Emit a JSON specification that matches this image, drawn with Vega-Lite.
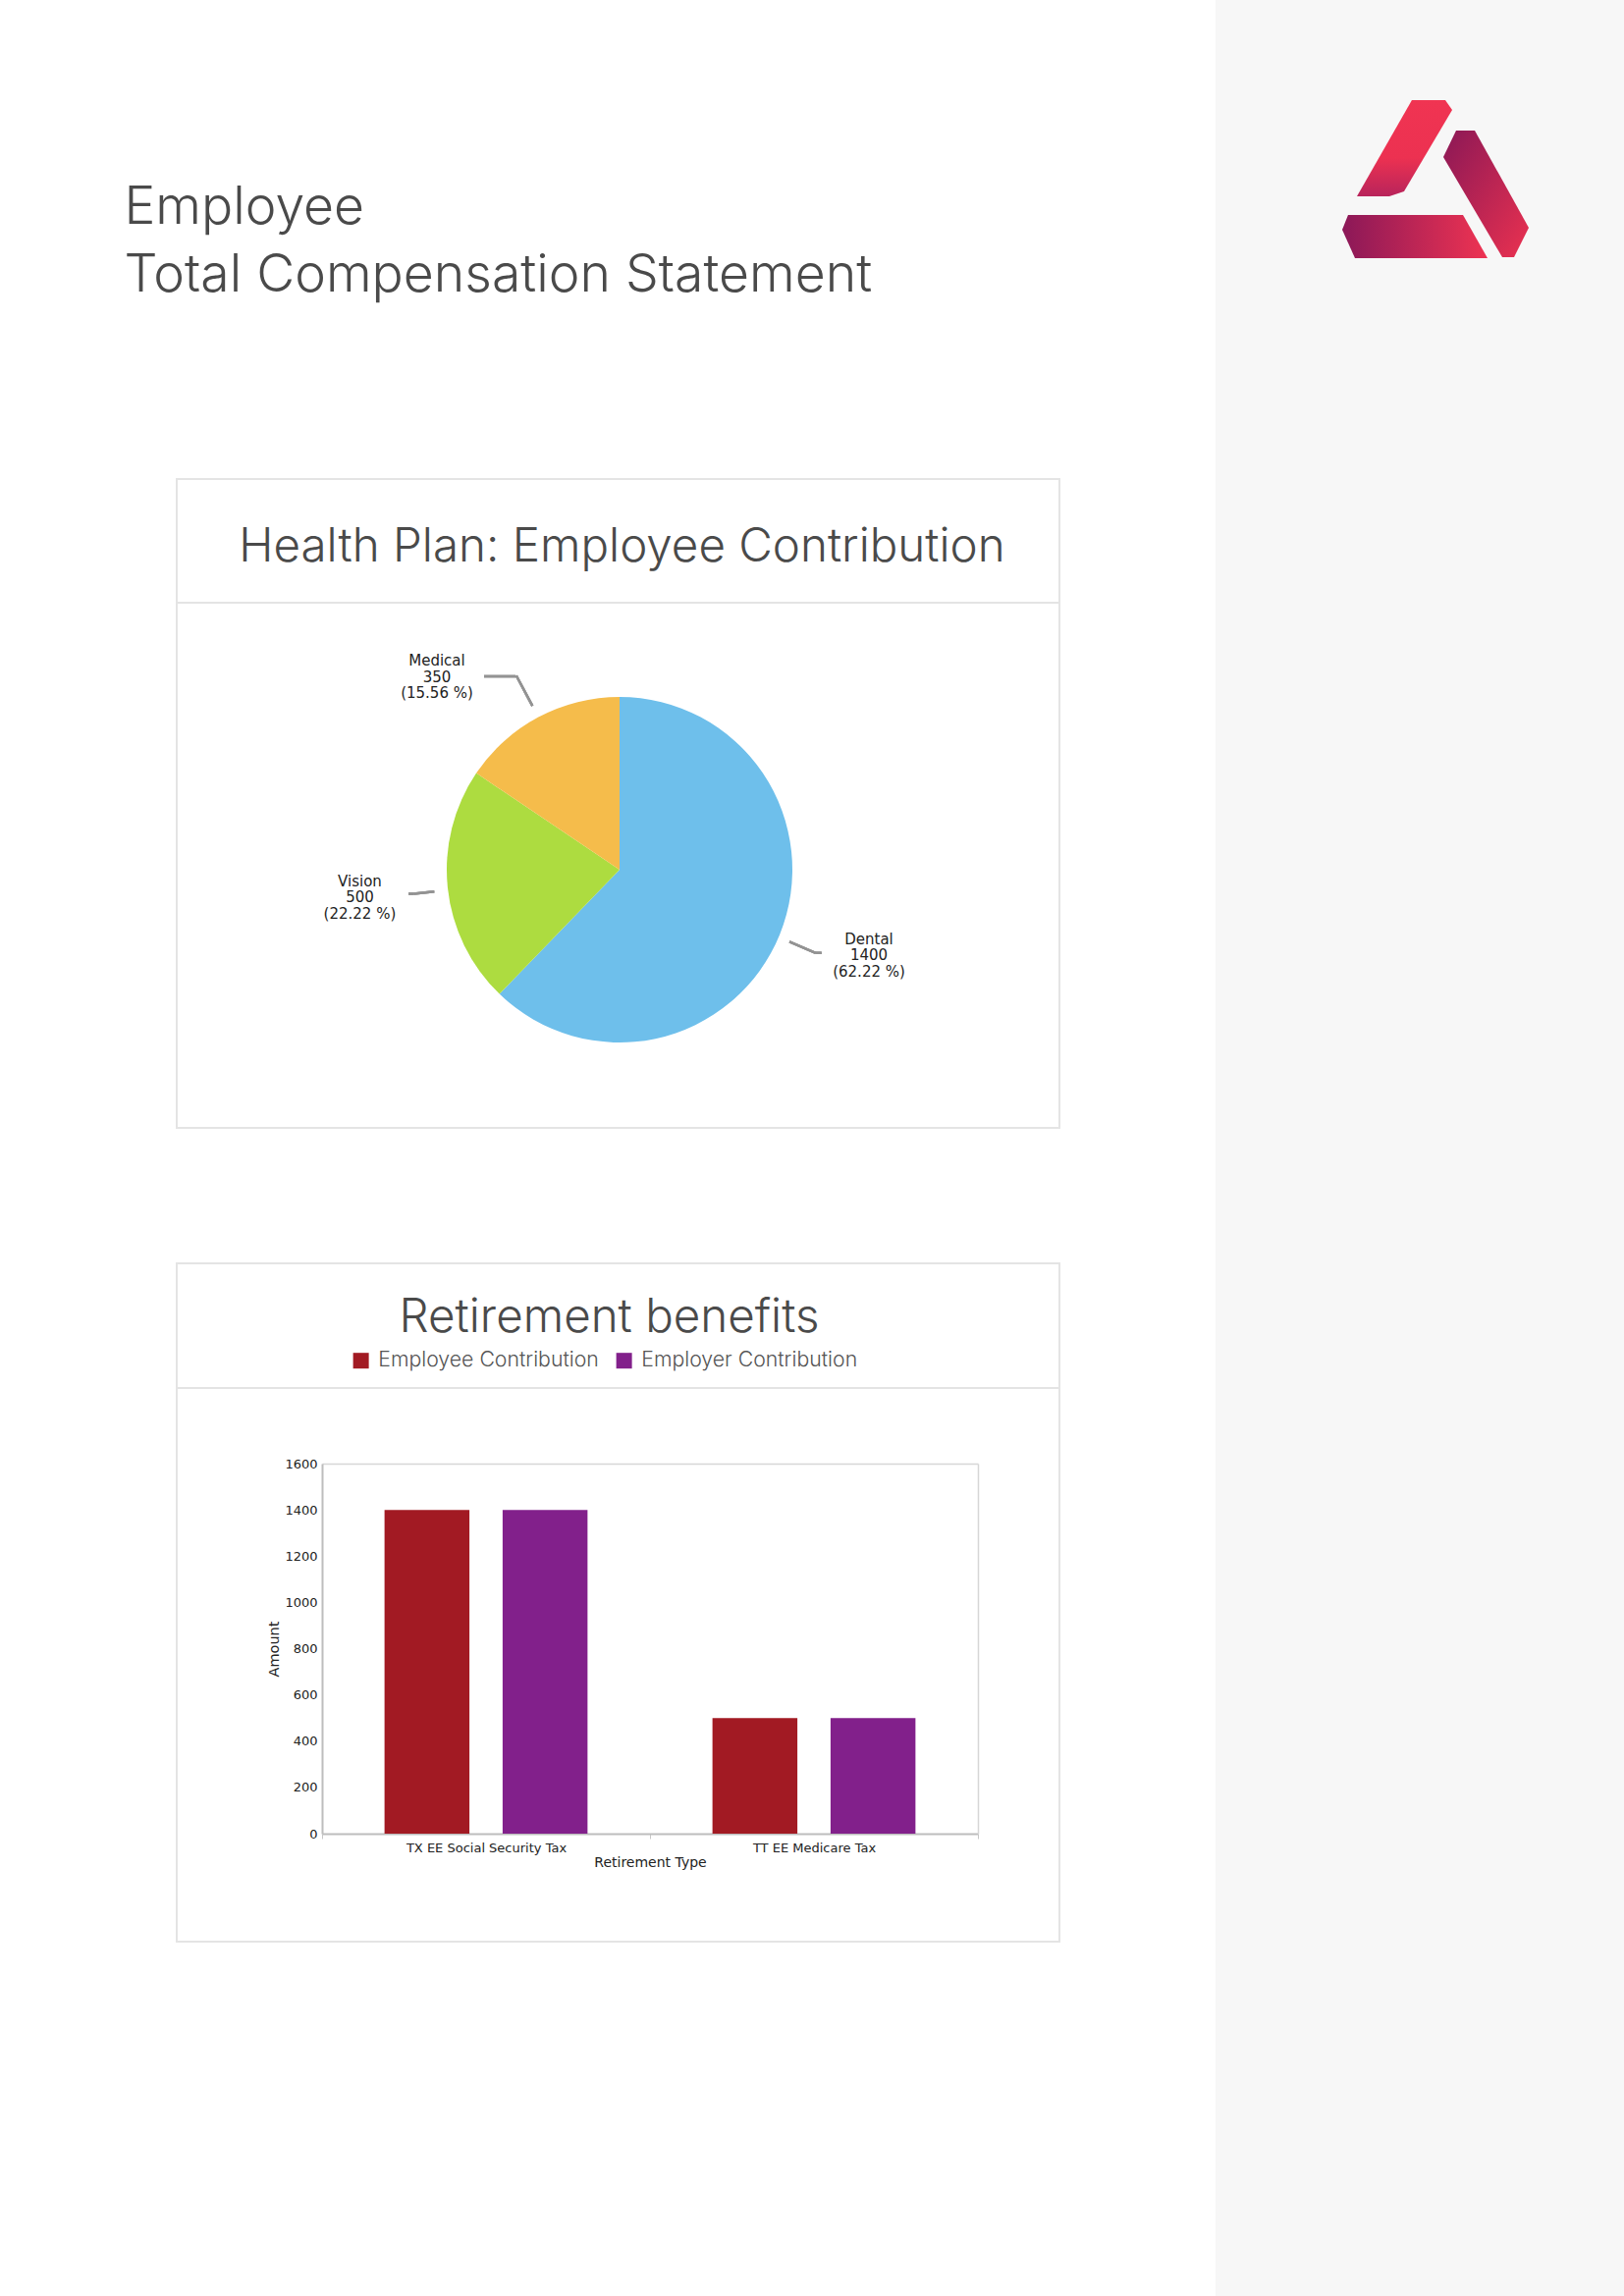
{
  "$schema": "https://vega.github.io/schema/vega-lite/v6.json",
  "background": "white",
  "padding": 0,
  "spacing": 0,
  "columns": 4,
  "bounds": "flush",
  "resolve": {"scale": {"color": "independent", "theta": "independent"}},
  "config": {"view": {"stroke": null}, "font": "DejaVu Sans"},
  "datasets": {
    "page": [{}],
    "health": [
      {"category": "Dental", "amount": 1400, "share": "(62.22 %)"},
      {"category": "Vision", "amount": 500, "share": "(22.22 %)"},
      {"category": "Medical", "amount": 350, "share": "(15.56 %)"}
    ],
    "retirement": [
      {"type": "TX EE Social Security Tax", "series": "Employee Contribution", "amount": 1400},
      {"type": "TX EE Social Security Tax", "series": "Employer Contribution", "amount": 1400},
      {"type": "TT EE Medicare Tax", "series": "Employee Contribution", "amount": 500},
      {"type": "TT EE Medicare Tax", "series": "Employer Contribution", "amount": 500}
    ]
  },
  "concat": [
    {"width": 180, "height": 100, "data": {"name": "page"}, "mark": {"type": "text", "text": ""}, "encoding": {}},
    {
      "width": 899, "height": 488,
      "data": {"name": "page"},
      "mark": {"type": "text", "text": ["Employee", "Total Compensation Statement"], "font": "Inter", "fontWeight": 300, "fontSize": 53.5, "lineHeight": 69, "color": "#4a4a4a", "align": "left", "baseline": "alphabetic", "dx": -503, "dy": -16},
      "encoding": {}
    },
    {"width": 159, "height": 100, "data": {"name": "page"}, "mark": {"type": "text", "text": ""}, "encoding": {}},
    {
      "width": 416, "height": 488,
      "view": {"fill": "#f7f7f7", "stroke": null},
      "data": {"name": "page"},
      "layer": [
        {"mark": {"type": "point", "shape": "M-0.253,-0.847L0.105,-0.847L0.179,-0.742L-0.337,0.132L-0.495,0.184L-0.842,0.184Z", "size": 36100, "filled": true, "opacity": 1, "strokeWidth": 0, "xOffset": 16, "yOffset": -61.5, "fill": {"gradient": "linear", "x1": 0, "y1": 0, "x2": 0, "y2": 1, "stops": [{"offset": 0, "color": "#f03452"}, {"offset": 0.6, "color": "#ec3151"}, {"offset": 1, "color": "#b8245b"}]}}, "encoding": {}},
        {"mark": {"type": "point", "shape": "M0.221,-0.521L0.421,-0.521L1,0.521L0.842,0.837L0.716,0.837L0.084,-0.237Z", "size": 36100, "filled": true, "opacity": 1, "strokeWidth": 0, "xOffset": 16, "yOffset": -61.5, "fill": {"gradient": "linear", "x1": 0, "y1": 0, "x2": 1, "y2": 1, "stops": [{"offset": 0, "color": "#8b1856"}, {"offset": 1, "color": "#ea3150"}]}}, "encoding": {}},
        {"mark": {"type": "point", "shape": "M-0.937,0.384L0.295,0.384L0.558,0.847L-0.863,0.847L-1,0.542Z", "size": 36100, "filled": true, "opacity": 1, "strokeWidth": 0, "xOffset": 16, "yOffset": -61.5, "fill": {"gradient": "linear", "x1": 0, "y1": 0, "x2": 1, "y2": 0, "stops": [{"offset": 0, "color": "#8b1858"}, {"offset": 1, "color": "#ee3352"}]}}, "encoding": {}}
      ]
    },

    {"width": 180, "height": 1, "data": {"name": "page"}, "mark": {"type": "text", "text": ""}, "encoding": {}},
    {
      "width": 899, "height": 126,
      "view": {"stroke": "#e4e4e4", "strokeWidth": 2},
      "data": {"name": "page"},
      "mark": {"type": "text", "text": "Health Plan: Employee Contribution", "font": "Inter", "fontWeight": 300, "fontSize": 47.5, "color": "#4a4a4a", "align": "center", "baseline": "alphabetic", "dx": 4, "dy": 21},
      "encoding": {}
    },
    {"width": 159, "height": 1, "data": {"name": "page"}, "mark": {"type": "text", "text": ""}, "encoding": {}},
    {"width": 416, "height": 126, "view": {"fill": "#f7f7f7", "stroke": null}, "data": {"name": "page"}, "mark": {"type": "text", "text": ""}, "encoding": {}},

    {"width": 180, "height": 1, "data": {"name": "page"}, "mark": {"type": "text", "text": ""}, "encoding": {}},
    {
      "width": 899, "height": 535,
      "view": {"stroke": "#e4e4e4", "strokeWidth": 2},
      "data": {"name": "health"},
      "transform": [{"window": [{"op": "row_number", "as": "rowOrder"}]}],
      "layer": [
        {
          "mark": {"type": "arc", "outerRadius": 176, "xOffset": 1.5, "yOffset": 4.5},
          "encoding": {
            "theta": {"field": "amount", "type": "quantitative", "stack": true},
            "order": {"field": "rowOrder", "type": "quantitative"},
            "color": {"field": "category", "type": "nominal", "scale": {"domain": ["Dental", "Vision", "Medical"], "range": ["#6ebfeb", "#addc40", "#f5bc4b"]}, "legend": null}
          }
        },
        {
          "mark": {"type": "arc", "radius": 217, "radius2": 188, "xOffset": 1.5, "yOffset": 4.5, "fill": null, "filled": false, "stroke": "#939393", "strokeWidth": 2.5, "strokeCap": "round"},
          "encoding": {
            "theta": {"field": "amount", "type": "quantitative", "stack": true, "scale": {"domain": [0, 2250], "range": [1.97222, 1.97222]}},
            "order": {"field": "rowOrder", "type": "quantitative"}
          }
        },
        {
          "mark": {"type": "arc", "radius": 205.7, "radius2": 199.7, "xOffset": 1.5, "yOffset": 89.3, "fill": null, "filled": false, "stroke": "#939393", "strokeWidth": 2.5, "strokeCap": "round"},
          "encoding": {
            "theta": {"field": "amount", "type": "quantitative", "stack": true, "scale": {"domain": [0, 2250], "range": [1.5708, 1.5708]}},
            "order": {"field": "rowOrder", "type": "quantitative"}
          }
        },
        {
          "mark": {"type": "arc", "radius": 211, "radius2": 190, "xOffset": 1.5, "yOffset": 4.5, "fill": null, "filled": false, "stroke": "#939393", "strokeWidth": 2.5, "strokeCap": "round"},
          "encoding": {
            "theta": {"field": "amount", "type": "quantitative", "stack": true, "scale": {"domain": [0, 2250], "range": [4.5955, 4.5955]}},
            "order": {"field": "rowOrder", "type": "quantitative"}
          }
        },
        {
          "mark": {"type": "arc", "radius": 215, "radius2": 209.6, "xOffset": 1.5, "yOffset": 29.1, "fill": null, "filled": false, "stroke": "#939393", "strokeWidth": 2.5, "strokeCap": "round"},
          "encoding": {
            "theta": {"field": "amount", "type": "quantitative", "stack": true, "scale": {"domain": [0, 2250], "range": [4.71239, 4.71239]}},
            "order": {"field": "rowOrder", "type": "quantitative"}
          }
        },
        {
          "mark": {"type": "arc", "radius": 224, "radius2": 189, "xOffset": 1.5, "yOffset": 4.5, "fill": null, "filled": false, "stroke": "#939393", "strokeWidth": 2.5, "strokeCap": "round"},
          "encoding": {
            "theta": {"field": "amount", "type": "quantitative", "stack": true, "scale": {"domain": [0, 2250], "range": [5.7945, 5.7945]}},
            "order": {"field": "rowOrder", "type": "quantitative"}
          }
        },
        {
          "mark": {"type": "arc", "radius": 138, "radius2": 106, "xOffset": 1.5, "yOffset": -192.5, "fill": null, "filled": false, "stroke": "#939393", "strokeWidth": 2.5, "strokeCap": "round"},
          "encoding": {
            "theta": {"field": "amount", "type": "quantitative", "stack": true, "scale": {"domain": [0, 2250], "range": [4.71239, 4.71239]}},
            "order": {"field": "rowOrder", "type": "quantitative"}
          }
        },
        {
          "encoding": {
            "theta": {"field": "amount", "type": "quantitative", "stack": true},
            "order": {"field": "rowOrder", "type": "quantitative"}
          },
          "layer": [
            {"mark": {"type": "text", "radius": 265, "xOffset": 1.5, "yOffset": 4.5, "dx": 8.3, "dy": -28.3, "fontSize": 15, "color": "#222222", "baseline": "middle", "align": "center"},
             "encoding": {"text": {"condition": {"test": "datum.category === 'Dental'", "field": "category", "type": "nominal"}, "value": ""}}},
            {"mark": {"type": "text", "radius": 265, "xOffset": 1.5, "yOffset": 4.5, "dx": 8.3, "dy": -11.8, "fontSize": 15, "color": "#222222", "baseline": "middle", "align": "center"},
             "encoding": {"text": {"condition": {"test": "datum.category === 'Dental'", "field": "amount", "type": "quantitative"}, "value": ""}}},
            {"mark": {"type": "text", "radius": 265, "xOffset": 1.5, "yOffset": 4.5, "dx": 8.3, "dy": 4.7, "fontSize": 15, "color": "#222222", "baseline": "middle", "align": "center"},
             "encoding": {"text": {"condition": {"test": "datum.category === 'Dental'", "field": "share", "type": "nominal"}, "value": ""}}},
            {"mark": {"type": "text", "radius": 265, "xOffset": 1.5, "yOffset": 4.5, "dx": -1, "dy": -16.2, "fontSize": 15, "color": "#222222", "baseline": "middle", "align": "center"},
             "encoding": {"text": {"condition": {"test": "datum.category === 'Vision'", "field": "category", "type": "nominal"}, "value": ""}}},
            {"mark": {"type": "text", "radius": 265, "xOffset": 1.5, "yOffset": 4.5, "dx": -1, "dy": 0.3, "fontSize": 15, "color": "#222222", "baseline": "middle", "align": "center"},
             "encoding": {"text": {"condition": {"test": "datum.category === 'Vision'", "field": "amount", "type": "quantitative"}, "value": ""}}},
            {"mark": {"type": "text", "radius": 265, "xOffset": 1.5, "yOffset": 4.5, "dx": -1, "dy": 16.8, "fontSize": 15, "color": "#222222", "baseline": "middle", "align": "center"},
             "encoding": {"text": {"condition": {"test": "datum.category === 'Vision'", "field": "share", "type": "nominal"}, "value": ""}}},
            {"mark": {"type": "text", "radius": 265, "xOffset": 1.5, "yOffset": 4.5, "dx": -61.6, "dy": 21, "fontSize": 15, "color": "#222222", "baseline": "middle", "align": "center"},
             "encoding": {"text": {"condition": {"test": "datum.category === 'Medical'", "field": "category", "type": "nominal"}, "value": ""}}},
            {"mark": {"type": "text", "radius": 265, "xOffset": 1.5, "yOffset": 4.5, "dx": -61.6, "dy": 37.5, "fontSize": 15, "color": "#222222", "baseline": "middle", "align": "center"},
             "encoding": {"text": {"condition": {"test": "datum.category === 'Medical'", "field": "amount", "type": "quantitative"}, "value": ""}}},
            {"mark": {"type": "text", "radius": 265, "xOffset": 1.5, "yOffset": 4.5, "dx": -61.6, "dy": 54, "fontSize": 15, "color": "#222222", "baseline": "middle", "align": "center"},
             "encoding": {"text": {"condition": {"test": "datum.category === 'Medical'", "field": "share", "type": "nominal"}, "value": ""}}}
          ]
        }
      ],
      "resolve": {"scale": {"theta": "independent"}}
    },
    {"width": 159, "height": 1, "data": {"name": "page"}, "mark": {"type": "text", "text": ""}, "encoding": {}},
    {"width": 416, "height": 535, "view": {"fill": "#f7f7f7", "stroke": null}, "data": {"name": "page"}, "mark": {"type": "text", "text": ""}, "encoding": {}},

    {"width": 180, "height": 1, "data": {"name": "page"}, "mark": {"type": "text", "text": ""}, "encoding": {}},
    {"width": 899, "height": 1, "data": {"name": "page"}, "mark": {"type": "text", "text": ""}, "encoding": {}},
    {"width": 159, "height": 1, "data": {"name": "page"}, "mark": {"type": "text", "text": ""}, "encoding": {}},
    {"width": 416, "height": 138, "view": {"fill": "#f7f7f7", "stroke": null}, "data": {"name": "page"}, "mark": {"type": "text", "text": ""}, "encoding": {}},

    {"width": 180, "height": 1, "data": {"name": "page"}, "mark": {"type": "text", "text": ""}, "encoding": {}},
    {
      "width": 899, "height": 127,
      "view": {"stroke": "#e4e4e4", "strokeWidth": 2},
      "data": {"name": "page"},
      "mark": {"type": "text", "text": "Retirement benefits", "font": "Inter", "fontWeight": 300, "fontSize": 47.5, "color": "#4a4a4a", "align": "center", "baseline": "alphabetic", "dx": -9, "dy": 6.5},
      "encoding": {}
    },
    {"width": 159, "height": 1, "data": {"name": "page"}, "mark": {"type": "text", "text": ""}, "encoding": {}},
    {"width": 416, "height": 127, "view": {"fill": "#f7f7f7", "stroke": null}, "data": {"name": "page"}, "mark": {"type": "text", "text": ""}, "encoding": {}},

    {"width": 180, "height": 1, "data": {"name": "page"}, "mark": {"type": "text", "text": ""}, "encoding": {}},
    {
      "width": 899, "height": 564,
      "view": {"stroke": "#e4e4e4", "strokeWidth": 2},
      "data": {"name": "retirement"},
      "layer": [
        {
          "mark": {"type": "bar", "opacity": 0},
          "encoding": {
            "x": {"field": "type", "type": "nominal", "sort": ["TX EE Social Security Tax", "TT EE Medicare Tax"], "scale": {"range": [148, 816], "paddingInner": 0, "paddingOuter": 0}, "axis": {"orient": "top", "offset": -77, "labels": false, "ticks": false, "title": null, "domainColor": "#d6d6d6", "domainWidth": 1.5}},
            "y": {"field": "amount", "type": "quantitative", "scale": {"domain": [0, 1600], "range": [454, 77], "nice": false}, "axis": {"orient": "right", "offset": -83, "labels": false, "ticks": false, "title": null, "grid": false, "domainColor": "#d6d6d6", "domainWidth": 1.5}}
          }
        },
        {
          "mark": {"type": "bar"},
          "encoding": {
            "x": {"field": "type", "type": "nominal", "sort": ["TX EE Social Security Tax", "TT EE Medicare Tax"], "scale": {"range": [148, 816], "paddingInner": 0, "paddingOuter": 0}, "axis": {"orient": "bottom", "offset": -110, "title": "Retirement Type", "labelAngle": 0, "tickBand": "extent", "ticks": true, "tickSize": 5, "tickColor": "#c8c8c8", "domainColor": "#bdbdbd", "domainWidth": 2, "labelFont": "DejaVu Sans", "labelFontSize": 13, "labelColor": "#222222", "labelPadding": 3, "titleFont": "DejaVu Sans", "titleFontSize": 14, "titleFontWeight": "normal", "titleColor": "#222222", "titlePadding": 1}},
            "xOffset": {"field": "series", "type": "nominal", "scale": {"paddingInner": 0.281, "paddingOuter": 0.529}},
            "y": {"field": "amount", "type": "quantitative", "scale": {"domain": [0, 1600], "range": [454, 77], "nice": false}, "axis": {"orient": "left", "offset": -148, "title": "Amount", "format": "d", "values": [0, 200, 400, 600, 800, 1000, 1200, 1400, 1600], "ticks": false, "grid": false, "domainColor": "#bdbdbd", "domainWidth": 2, "labelFont": "DejaVu Sans", "labelFontSize": 13, "labelColor": "#222222", "labelPadding": 5, "titleFont": "DejaVu Sans", "titleFontSize": 14.5, "titleFontWeight": "normal", "titleColor": "#222222", "titlePadding": 3}},
            "color": {"field": "series", "type": "nominal", "scale": {"domain": ["Employee Contribution", "Employer Contribution"], "range": ["#a21a23", "#82208b"]}, "legend": {"orient": "none", "legendX": 177, "legendY": -38.5, "direction": "horizontal", "title": null, "symbolType": "square", "symbolSize": 256, "symbolStrokeWidth": 0, "symbolOpacity": 1, "labelFont": "Inter", "labelFontWeight": 300, "labelFontSize": 21.25, "labelLimit": 600, "labelColor": "#555555", "labelOffset": 7, "columnPadding": 15, "padding": 0, "encode": {"symbols": {"update": {"fill": {"signal": "datum.value === 'Employee Contribution' ? '#c4172f' : '#8c1a94'"}}}}}}
          }
        }
      ],
      "resolve": {"axis": {"x": "independent", "y": "independent"}}
    },
    {"width": 159, "height": 1, "data": {"name": "page"}, "mark": {"type": "text", "text": ""}, "encoding": {}},
    {"width": 416, "height": 564, "view": {"fill": "#f7f7f7", "stroke": null}, "data": {"name": "page"}, "mark": {"type": "text", "text": ""}, "encoding": {}},

    {"width": 180, "height": 1, "data": {"name": "page"}, "mark": {"type": "text", "text": ""}, "encoding": {}},
    {"width": 899, "height": 1, "data": {"name": "page"}, "mark": {"type": "text", "text": ""}, "encoding": {}},
    {"width": 159, "height": 1, "data": {"name": "page"}, "mark": {"type": "text", "text": ""}, "encoding": {}},
    {"width": 416, "height": 361, "view": {"fill": "#f7f7f7", "stroke": null}, "data": {"name": "page"}, "mark": {"type": "text", "text": ""}, "encoding": {}}
  ]
}
